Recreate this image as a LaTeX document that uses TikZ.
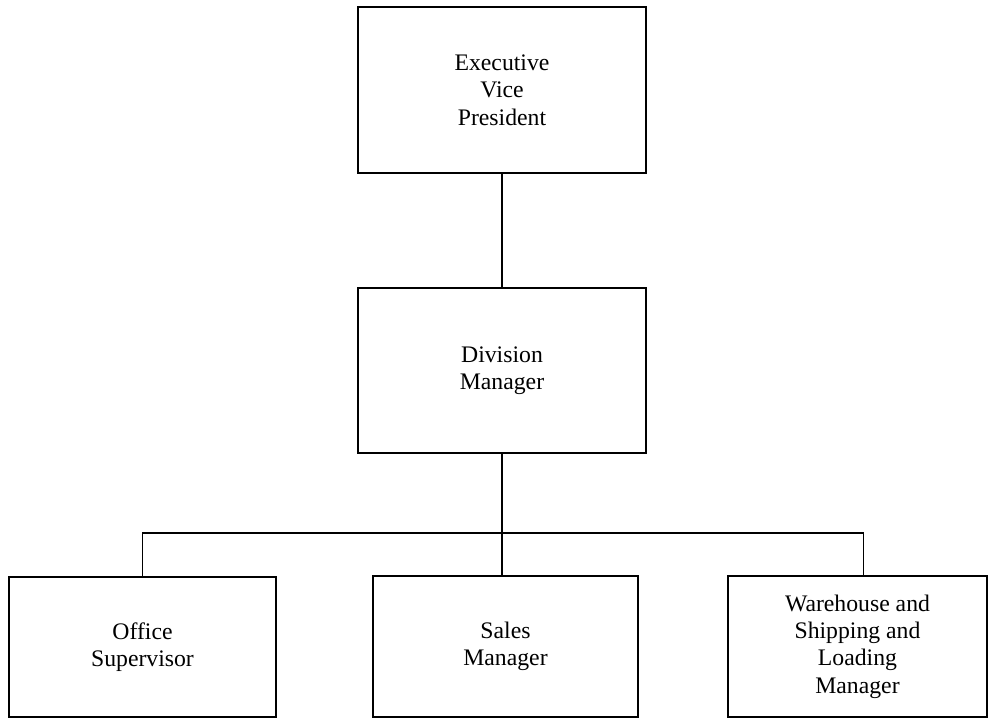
\documentclass[tikz,border=0pt]{standalone}
\usepackage{fontspec}
\setmainfont{Liberation Serif}
\usepackage{tikz}

\begin{document}
\begin{tikzpicture}[line width=0.8pt,
        box/.style={draw, rectangle, align=center,
          font=\fontsize{13.5}{15.6}\selectfont}]
        \useasboundingbox (0,0) rectangle (19.76,-14.36);
        \clip (0,0) rectangle (19.76,-14.36);

        \node[box, minimum width=5.76cm, minimum height=3.32cm] (evp)
          at (10.04,-1.80) {Executive\\Vice\\President};
        \node[box, minimum width=5.76cm, minimum height=3.30cm] (divman)
          at (10.04,-7.41) {Division\\Manager};

        %bottom row, cut by the lower edge
        \node[box, minimum width=5.34cm, minimum height=2.80cm] (office)
          at (2.85,-12.94) {Office\\Supervisor};
        \node[box, minimum width=5.30cm, minimum height=2.82cm] (sales)
          at (10.11,-12.93) {Sales\\Manager};
        \node[box, minimum width=5.18cm, minimum height=2.82cm] (warehouse)
          at (17.15,-12.93) {Warehouse and\\Shipping and\\Loading\\Manager};

        \coordinate (bus) at (10.04,-10.66);
        \coordinate (salestop) at (divman.south |- sales.north);
        \coordinate (waretop) at ([xshift=0.12cm]warehouse.north);

        \draw (evp) -- (divman);
        \draw (divman) -- (bus);
        \draw (office.north) |- (bus) -| (waretop);
        \draw (bus) -- (salestop);
      \end{tikzpicture}
\end{document}
